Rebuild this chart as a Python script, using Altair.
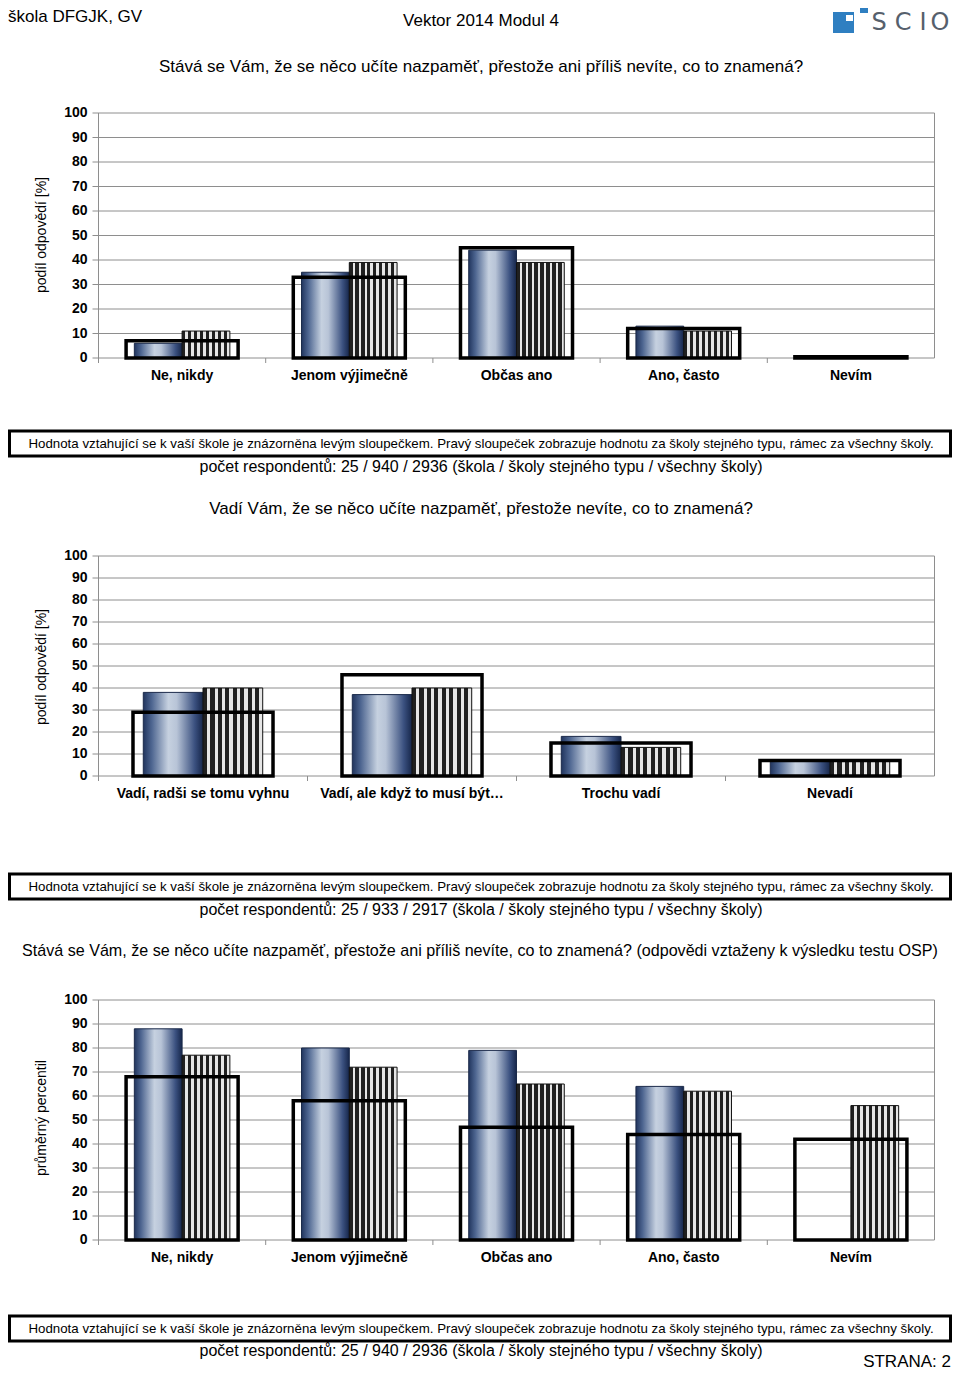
import altair as alt
import pandas as pd

# ---------------- data ----------------
cats1 = ["Ne, nikdy", "Jenom výjimečně", "Občas ano", "Ano, často", "Nevím"]
q1_school = [6, 35, 44, 13, 0]
q1_type = [11, 39, 39, 11, 0]
q1_all = [7, 33, 45, 12, 0.5]

cats2 = ["Vadí, radši se tomu vyhnu", "Vadí, ale když to musí být…", "Trochu vadí", "Nevadí"]
q2_school = [38, 37, 18, 7]
q2_type = [40, 40, 13, 7]
q2_all = [29, 46, 15, 7]

cats3 = ["Ne, nikdy", "Jenom výjimečně", "Občas ano", "Ano, často", "Nevím"]
q3_school = [88, 80, 79, 64, None]
q3_type = [77, 72, 65, 62, 56]
q3_all = [68, 58, 47, 44, 42]

tick_values = [0, 10, 20, 30, 40, 50, 60, 70, 80, 90, 100]

series = ["škola", "typ"]

title1 = "Stává se Vám, že se něco učíte nazpaměť, přestože ani příliš nevíte, co to znamená?"
title2 = "Vadí Vám, že se něco učíte nazpaměť, přestože nevíte, co to znamená?"
title3 = ("Stává se Vám, že se něco učíte nazpaměť, přestože ani příliš nevíte, co to znamená? "
          "(odpovědi vztaženy k výsledku testu OSP)")
note = ("Hodnota vztahující se k vaší škole je znázorněna levým sloupečkem. Pravý sloupeček "
        "zobrazuje hodnotu za školy stejného typu, rámec za všechny školy.")
resp1 = "počet respondentů: 25 / 940 / 2936 (škola / školy stejného typu / všechny školy)"
resp2 = "počet respondentů: 25 / 933 / 2917 (škola / školy stejného typu / všechny školy)"
resp3 = "počet respondentů: 25 / 940 / 2936 (škola / školy stejného typu / všechny školy)"

FONT = "Liberation Sans"
W, H = 944, 1363

school_fill = alt.LinearGradient(
    gradient="linear", x1=0, x2=1, y1=0, y2=0,
    stops=[
        alt.GradientStop(offset=0, color="#21355e"),
        alt.GradientStop(offset=0.14, color="#4d6590"),
        alt.GradientStop(offset=0.42, color="#c6d1e0"),
        alt.GradientStop(offset=0.56, color="#b8c4d7"),
        alt.GradientStop(offset=0.86, color="#3b5180"),
        alt.GradientStop(offset=1, color="#16264a"),
    ],
)

stripe_stops = []
n_str = 8
for i in range(n_str):
    a = i / n_str
    b = (i + 0.55) / n_str
    c = (i + 1) / n_str
    stripe_stops += [
        alt.GradientStop(offset=a, color="#202020"),
        alt.GradientStop(offset=b, color="#202020"),
        alt.GradientStop(offset=b, color="#e6e6e6"),
        alt.GradientStop(offset=c, color="#e6e6e6"),
    ]
type_fill = alt.LinearGradient(gradient="linear", x1=0, x2=1, y1=0, y2=0, stops=stripe_stops)


def text_layer(txt, x, y, size=17, align="center", weight="normal", font=FONT, angle=0, color="black",
               baseline="middle"):
    kw = dict(align=align, baseline=baseline, fontSize=size, fontWeight=weight, font=font, color=color)
    if angle:
        kw["angle"] = angle
    return alt.Chart(pd.DataFrame({"t": [txt]})).mark_text(**kw).encode(
        text="t:N", x=alt.value(x), y=alt.value(y)
    )


def panel(cats, school, typ, allv, ybot, ytop, xl, xr, ytitle, ytitle_y, cat_y):
    ysc = alt.Scale(domain=[0, 100], range=[ybot, ytop], nice=False)
    xsc = alt.Scale(domain=cats, range=[xl, xr], paddingInner=0, paddingOuter=0)
    osc = alt.Scale(domain=series, paddingInner=0, paddingOuter=0.75)

    tdf = pd.DataFrame({"v": tick_values})
    grid = alt.Chart(tdf).mark_rule(color="#8e8e8e", strokeWidth=1).encode(
        y=alt.Y("v:Q", scale=ysc, axis=None), x=alt.value(xl - 6), x2=alt.value(xr)
    )
    labels = alt.Chart(tdf).mark_text(
        align="right", baseline="middle", fontSize=14, fontWeight="bold", font=FONT
    ).encode(y=alt.Y("v:Q", scale=ysc, axis=None), x=alt.value(xl - 11), text="v:Q")
    frame_l = alt.Chart(pd.DataFrame({"v": [0]})).mark_rule(color="#8e8e8e").encode(
        x=alt.value(xl), y=alt.Y("v:Q", scale=ysc, axis=None), y2=alt.Y2(datum=100)
    )
    frame_r = alt.Chart(pd.DataFrame({"v": [0]})).mark_rule(color="#8e8e8e").encode(
        x=alt.value(xr), y=alt.Y("v:Q", scale=ysc, axis=None), y2=alt.Y2(datum=100)
    )
    cdf = pd.DataFrame({"c": cats})
    xticks = alt.Chart(cdf).mark_rule(color="#8e8e8e").encode(
        x=alt.X("c:N", scale=xsc, axis=None, bandPosition=0),
        y=alt.value(ybot), y2=alt.value(ybot + 5),
    )

    sdf = pd.DataFrame({"c": cats, "v": school, "s": "škola"}).dropna()
    tydf = pd.DataFrame({"c": cats, "v": typ, "s": "typ"}).dropna()
    adf = pd.DataFrame({"c": cats, "v": allv})

    sbars = alt.Chart(sdf).mark_bar(fill=school_fill, stroke="#1b2a4a", strokeWidth=1).encode(
        x=alt.X("c:N", scale=xsc, axis=None),
        xOffset=alt.XOffset("s:N", scale=osc),
        y=alt.Y("v:Q", scale=ysc, axis=None),
    )
    tbars = alt.Chart(tydf).mark_bar(fill=type_fill, stroke="#111111", strokeWidth=1).encode(
        x=alt.X("c:N", scale=xsc, axis=None),
        xOffset=alt.XOffset("s:N", scale=osc),
        y=alt.Y("v:Q", scale=ysc, axis=None),
    )
    frames = alt.Chart(adf).mark_bar(
        filled=False, color="black", strokeWidth=3.5, width=alt.RelativeBandSize(0.67)
    ).encode(
        x=alt.X("c:N", scale=xsc, axis=None),
        y=alt.Y("v:Q", scale=ysc, axis=None),
    )
    catlab = alt.Chart(cdf).mark_text(
        fontSize=14, fontWeight="bold", font=FONT, baseline="middle"
    ).encode(
        x=alt.X("c:N", scale=xsc, axis=None, bandPosition=0.5),
        y=alt.value(cat_y),
        text="c:N",
    )
    ytit = text_layer(ytitle, 34, ytitle_y, size=14, angle=270)
    return [grid, frame_l, frame_r, xticks, labels, sbars, tbars, frames, catlab, ytit]


def footer(y_top, resp, resp_y):
    box = alt.Chart(pd.DataFrame({"a": [0]})).mark_rect(
        fill="white", stroke="black", strokeWidth=3
    ).encode(x=alt.value(1.5), x2=alt.value(942.5), y=alt.value(y_top), y2=alt.value(y_top + 25))
    t = text_layer(note, 473, y_top + 12.5, size=13.3)
    r = text_layer(resp, 473, resp_y, size=16)
    return [box, t, r]


layers = []
# header
layers.append(text_layer("škola DFGJK, GV", 0, 9, size=17, align="left"))
layers.append(text_layer("Vektor 2014 Modul 4", 473, 13, size=17))
# logo
logo_blue = "#2f7fc1"
layers.append(alt.Chart(pd.DataFrame({"a": [0]})).mark_rect(color=logo_blue).encode(
    x=alt.value(825), x2=alt.value(846), y=alt.value(4), y2=alt.value(25)))
layers.append(alt.Chart(pd.DataFrame({"a": [0]})).mark_rect(color="white").encode(
    x=alt.value(838), x2=alt.value(845), y=alt.value(7), y2=alt.value(13)))
layers.append(alt.Chart(pd.DataFrame({"a": [0]})).mark_rect(color=logo_blue).encode(
    x=alt.value(852), x2=alt.value(860), y=alt.value(0), y2=alt.value(5)))
for ch, cx in zip("SCIO", [871, 895, 915, 932]):
    layers.append(text_layer(ch, cx, 15, size=24, font="DejaVu Sans", color="#56606c"))

# panel 1
layers.append(text_layer(title1, 473, 59, size=17))
layers += panel(cats1, q1_school, q1_type, q1_all, 350, 105, 90.5, 926.5,
                "podíl odpovědí [%]", 227, 368)
layers += footer(423, resp1, 459)

# panel 2
layers.append(text_layer(title2, 473, 501, size=17))
layers += panel(cats2, q2_school, q2_type, q2_all, 768, 548, 90.5, 926.5,
                "podíl odpovědí [%]", 659, 786)
layers += footer(866, resp2, 902)

# panel 3
layers.append(text_layer(title3, 472, 943, size=16.1))
layers += panel(cats3, q3_school, q3_type, q3_all, 1232, 992, 90.5, 926.5,
                "průměrný percentil", 1110, 1250)
layers += footer(1308, resp3, 1343)

layers.append(text_layer("STRANA: 2", 943, 1363, size=17, align="right", baseline="bottom"))

chart = alt.layer(*layers).resolve_scale(
    x="independent", y="independent", xOffset="independent"
).properties(
    width=W, height=H, autosize=alt.AutoSizeParams(type="none"), padding=0
).configure_view(stroke="transparent")

chart.save("out.html", embed_options={"renderer": "svg", "actions": False})
